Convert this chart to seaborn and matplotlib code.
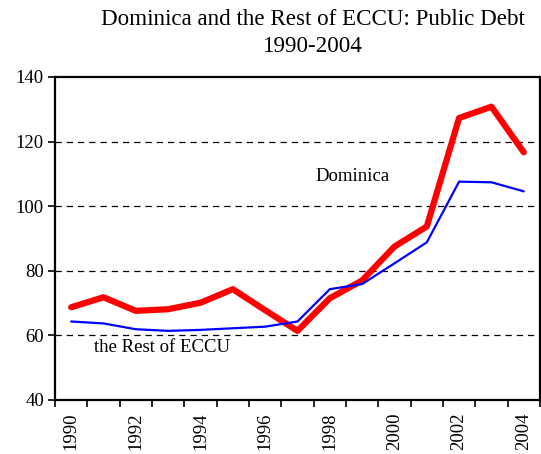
import matplotlib
matplotlib.use("Agg")
import matplotlib.pyplot as plt
import seaborn as sns
import pandas as pd
import numpy as np

years = list(range(1990, 2005))
dominica = [68.7, 71.8, 67.6, 68.1, 70.1, 74.3, 67.8, 61.4, 71.5, 77.0, 87.5, 93.7, 127.3, 130.8, 116.7]
rest_eccu = [64.3, 63.7, 61.9, 61.4, 61.7, 62.2, 62.7, 64.3, 74.3, 75.9, 82.3, 88.8, 107.6, 107.4, 104.6]
y_ticks = [40, 60, 80, 100, 120, 140]
x_labels = [1990, 1992, 1994, 1996, 1998, 2000, 2002, 2004]

sns.set_style("white")
plt.rcParams['font.family'] = ['Liberation Serif', 'DejaVu Serif']
plt.rcParams['text.color'] = 'black'
plt.rcParams['xtick.color'] = 'black'
plt.rcParams['ytick.color'] = 'black'
plt.rcParams['xtick.labelcolor'] = 'black'
plt.rcParams['ytick.labelcolor'] = 'black'

df = pd.DataFrame({"year": years * 2,
                   "debt": dominica + rest_eccu,
                   "series": ["Dominica"] * len(years) + ["the Rest of ECCU"] * len(years)})

fig = plt.figure(figsize=(5.41, 4.54), dpi=100)
ax = fig.add_axes([0.1017, 0.119, 0.8963, 0.7114])

sns.lineplot(data=df, x="year", y="debt", hue="series", size="series",
             palette={"Dominica": "#ff0000", "the Rest of ECCU": "#0000ff"},
             sizes={"Dominica": 4.5, "the Rest of ECCU": 1.6},
             legend=False, ax=ax, solid_capstyle="round")

ax.set_xlim(1989.5, 2004.5)
ax.set_ylim(40, 140)
ax.set_yticks(y_ticks)
ax.set_yticklabels([str(v) for v in y_ticks], fontsize=13.5, color="black")
for v in y_ticks[1:-1]:
    ax.axhline(v, color="black", linestyle=(0, (5, 4)), linewidth=0.9, zorder=0)

ax.set_xticks([y + 0.5 for y in range(1989, 2005)], minor=True)
ax.set_xticks(x_labels)
ax.set_xticklabels([str(v) for v in x_labels], rotation=90, fontsize=13.5, color="black")
ax.tick_params(axis="x", which="major", length=0, pad=9)
ax.tick_params(axis="x", which="minor", length=5, width=1.2, direction="out", bottom=True)
ax.tick_params(axis="y", length=5, width=1.2, direction="out", left=True, pad=3)
ax.set_xlabel("")
ax.set_ylabel("")
for s in ax.spines.values():
    s.set_linewidth(1.6)
    s.set_color("black")

ax.text(1998.7, 109.2, "Dominica", fontsize=13.5, ha="center", va="center", color="black")
ax.text(1990.7, 56.4, "the Rest of ECCU", fontsize=13.5, ha="left", va="center", color="black")

fig.text(0.578, 0.927, "Dominica and the Rest of ECCU: Public Debt\n1990-2004",
         ha="center", va="center", fontsize=16.6, linespacing=1.35, color="black")

fig.savefig("out.png", dpi=100)
